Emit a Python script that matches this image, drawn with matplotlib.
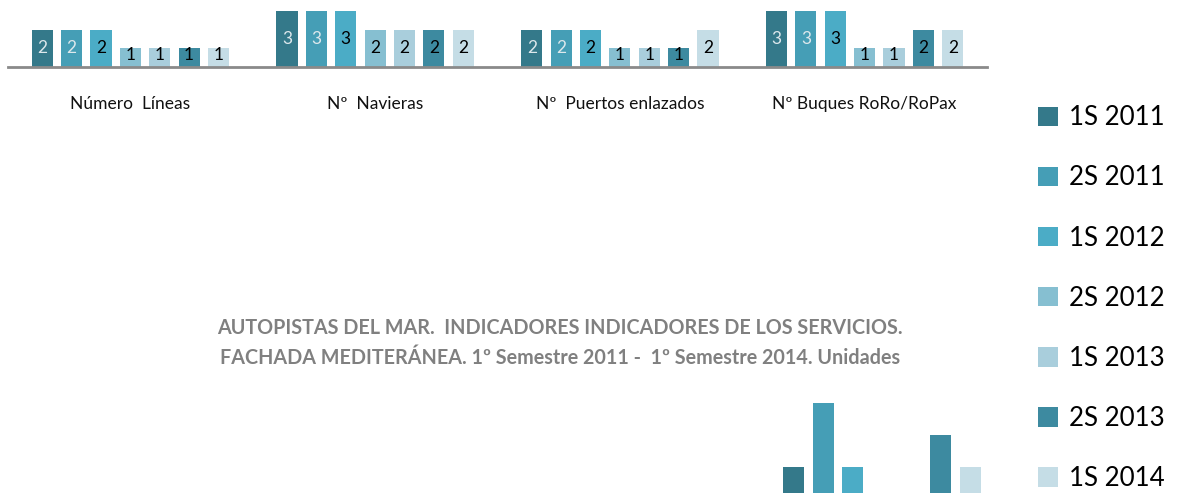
import matplotlib.pyplot as plt
from matplotlib.patches import Patch

plt.rcParams["font.family"] = ["Lato", "DejaVu Sans"]

categories = ["Número  Líneas", "Nº  Navieras", "Nº  Puertos enlazados", "Nº Buques RoRo/RoPax"]
periods = ["1S 2011", "2S 2011", "1S 2012", "2S 2012", "1S 2013", "2S 2013", "1S 2014"]
values = [
    [2, 2, 2, 1, 1, 1, 1],
    [3, 3, 3, 2, 2, 2, 2],
    [2, 2, 2, 1, 1, 1, 2],
    [3, 3, 3, 1, 1, 2, 2],
]
# fragment of a second (cut-off) chart at the bottom
fragment_values = [3, 5, 3, 0, 0, 4, 3]

colors = ["#34798a", "#459eb6", "#4bacc6", "#86bfd1", "#a9cedc", "#3d8aa0", "#c5dde6"]
label_colors = ["#dde8ec", "#dde8ec", "black", "black", "black", "black", "black"]

W, H = 1181, 493
fig = plt.figure(figsize=(W / 100, H / 100), dpi=100)

step = 0.12
width = 0.086

# main bars
ax = fig.add_axes([8 / W, 1 - 67 / H, 979 / W, 56 / H])
for k, period in enumerate(periods):
    xs = [i + 0.5 + (k - 3) * step for i in range(len(categories))]
    vals = [row[k] for row in values]
    ax.bar(xs, vals, width=width, color=colors[k])
    for x, v in zip(xs, vals):
        ax.text(x, v / 2 + (0.15 if v == 1 else 0), str(v), ha="center", va="center",
                fontsize=12.5, color=label_colors[k])
ax.set_xlim(0, 4)
ax.set_ylim(0, 3)
for s in ["top", "right", "left"]:
    ax.spines[s].set_visible(False)
ax.spines["bottom"].set_color("#8a8a8a")
ax.spines["bottom"].set_linewidth(2)
ax.set_yticks([])
ax.set_xticks([i + 0.5 for i in range(len(categories))])
ax.set_xticklabels(categories, fontsize=12.5, color="#111111")
ax.tick_params(axis="x", length=0, pad=21)

# cut-off fragment at the bottom right
ax2 = fig.add_axes([759.6 / W, 0, 244.75 / W, 93 / H])
for k in range(len(periods)):
    ax2.bar(0.5 + (k - 3) * step, fragment_values[k], width=width, color=colors[k])
ax2.set_xlim(0, 1)
ax2.set_ylim(2.19, 5.1)
ax2.axis("off")

# title
fig.text(560 / W, 1 - 328 / H, "AUTOPISTAS DEL MAR.  INDICADORES INDICADORES DE LOS SERVICIOS.",
         ha="center", va="center", fontsize=14.2, fontweight="bold", color="#808080")
fig.text(560 / W, 1 - 358 / H, "FACHADA MEDITERÁNEA. 1º Semestre 2011 -  1º Semestre 2014. Unidades",
         ha="center", va="center", fontsize=14.2, fontweight="bold", color="#808080")

# legend
handles = [Patch(facecolor=c, edgecolor="none") for c in colors]
fig.legend(handles, periods, loc="upper left", bbox_to_anchor=(1028 / W, 1 - 95 / H),
           frameon=False, fontsize=18.6, labelspacing=1.36, handlelength=0.78,
           handleheight=0.78, handletextpad=0.39, borderaxespad=0)

fig.savefig("out.png", dpi=100)
